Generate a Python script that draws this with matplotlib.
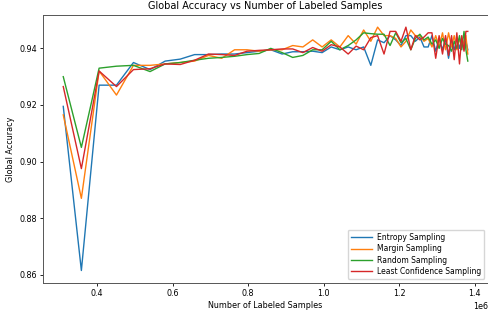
import matplotlib
matplotlib.use("Agg")
import matplotlib.pyplot as plt

# labeled samples (x 1e6 in the plot)
samples = [
    310000, 358000, 405000, 451000, 496000, 540000, 580000, 620000, 658000, 695000,
    730000, 764000, 797000, 829000, 860000, 890000, 918000, 945000, 971000, 996000,
    1020000, 1043000, 1065000, 1086000, 1106000, 1125000, 1143000, 1160000, 1176000, 1191000,
    1205000, 1218000, 1231000, 1243000, 1255000, 1266000, 1277000, 1287000, 1297000, 1306000,
    1315000, 1323000, 1331000, 1339000, 1346000, 1353000, 1360000, 1366000, 1372000, 1377000,
    1382000,
]

entropy = [
    0.9195, 0.8615, 0.9270, 0.9270, 0.9350, 0.9325, 0.9355, 0.9362, 0.9378, 0.9378,
    0.9380, 0.9380, 0.9385, 0.9390, 0.9395, 0.9380, 0.9388, 0.9388, 0.9390, 0.9385,
    0.9405, 0.9395, 0.9405, 0.9395, 0.9405, 0.9340, 0.9430, 0.9420, 0.9445, 0.9430,
    0.9410, 0.9445, 0.9445, 0.9425, 0.9440, 0.9405, 0.9405, 0.9445, 0.9390, 0.9435,
    0.9395, 0.9435, 0.9365, 0.9425, 0.9395, 0.9435, 0.9400, 0.9435, 0.9395, 0.9425,
    0.9395,
]

margin = [
    0.9165, 0.8870, 0.9320, 0.9235, 0.9340, 0.9340, 0.9345, 0.9350, 0.9355, 0.9375,
    0.9365, 0.9395, 0.9395, 0.9390, 0.9395, 0.9395, 0.9410, 0.9405, 0.9430, 0.9405,
    0.9430, 0.9405, 0.9445, 0.9415, 0.9465, 0.9425, 0.9475, 0.9445, 0.9445, 0.9435,
    0.9405, 0.9425, 0.9465, 0.9445, 0.9445, 0.9425, 0.9435, 0.9405, 0.9445, 0.9405,
    0.9455, 0.9395, 0.9455, 0.9405, 0.9445, 0.9395, 0.9435, 0.9405, 0.9425, 0.9445,
    0.9380,
]

random_s = [
    0.9300, 0.9050, 0.9330, 0.9337, 0.9340, 0.9318, 0.9345, 0.9350, 0.9358, 0.9365,
    0.9368, 0.9372, 0.9378, 0.9382, 0.9400, 0.9385, 0.9368, 0.9375, 0.9395, 0.9395,
    0.9425, 0.9395, 0.9410, 0.9430, 0.9455, 0.9452, 0.9450, 0.9450, 0.9410, 0.9455,
    0.9420, 0.9435, 0.9395, 0.9435, 0.9450, 0.9430, 0.9440, 0.9415, 0.9430, 0.9400,
    0.9435, 0.9415, 0.9410, 0.9390, 0.9425, 0.9400, 0.9445, 0.9395, 0.9460, 0.9395,
    0.9355,
]

least_conf = [
    0.9265, 0.8975, 0.9320, 0.9265, 0.9325, 0.9328, 0.9345, 0.9343, 0.9358, 0.9380,
    0.9378, 0.9375, 0.9390, 0.9393, 0.9395, 0.9398, 0.9398, 0.9385, 0.9403, 0.9390,
    0.9413, 0.9405, 0.9380, 0.9408, 0.9395, 0.9438, 0.9445, 0.9380, 0.9460, 0.9460,
    0.9425, 0.9475, 0.9395, 0.9445, 0.9430, 0.9440, 0.9455, 0.9455, 0.9365, 0.9445,
    0.9380, 0.9445, 0.9375, 0.9445, 0.9360, 0.9455, 0.9345, 0.9445, 0.9390, 0.9460,
    0.9460,
]

fig, ax = plt.subplots(figsize=(4.89, 3.12), dpi=100)
fig.subplots_adjust(left=0.088, right=0.998, bottom=0.094, top=0.952)

ax.plot(samples, entropy, label="Entropy Sampling", linewidth=1)
ax.plot(samples, margin, label="Margin Sampling", linewidth=1)
ax.plot(samples, random_s, label="Random Sampling", linewidth=1)
ax.plot(samples, least_conf, label="Least Confidence Sampling", linewidth=1)

ax.set_title("Global Accuracy vs Number of Labeled Samples", fontsize=7, pad=4)
ax.set_xlabel("Number of Labeled Samples", fontsize=5.8, labelpad=2)
ax.set_ylabel("Global Accuracy", fontsize=5.8, labelpad=3)
ax.tick_params(labelsize=5.8, length=2.5, width=0.6, pad=2)
ax.xaxis.get_offset_text().set_fontsize(5.8)
for sp in ax.spines.values():
    sp.set_linewidth(0.7)
    sp.set_color("#555555")

ax.legend(loc="lower right", fontsize=5.5, handlelength=2.8, handletextpad=0.6,
          borderpad=0.4, labelspacing=0.3)

fig.savefig("out.png", dpi=100)
